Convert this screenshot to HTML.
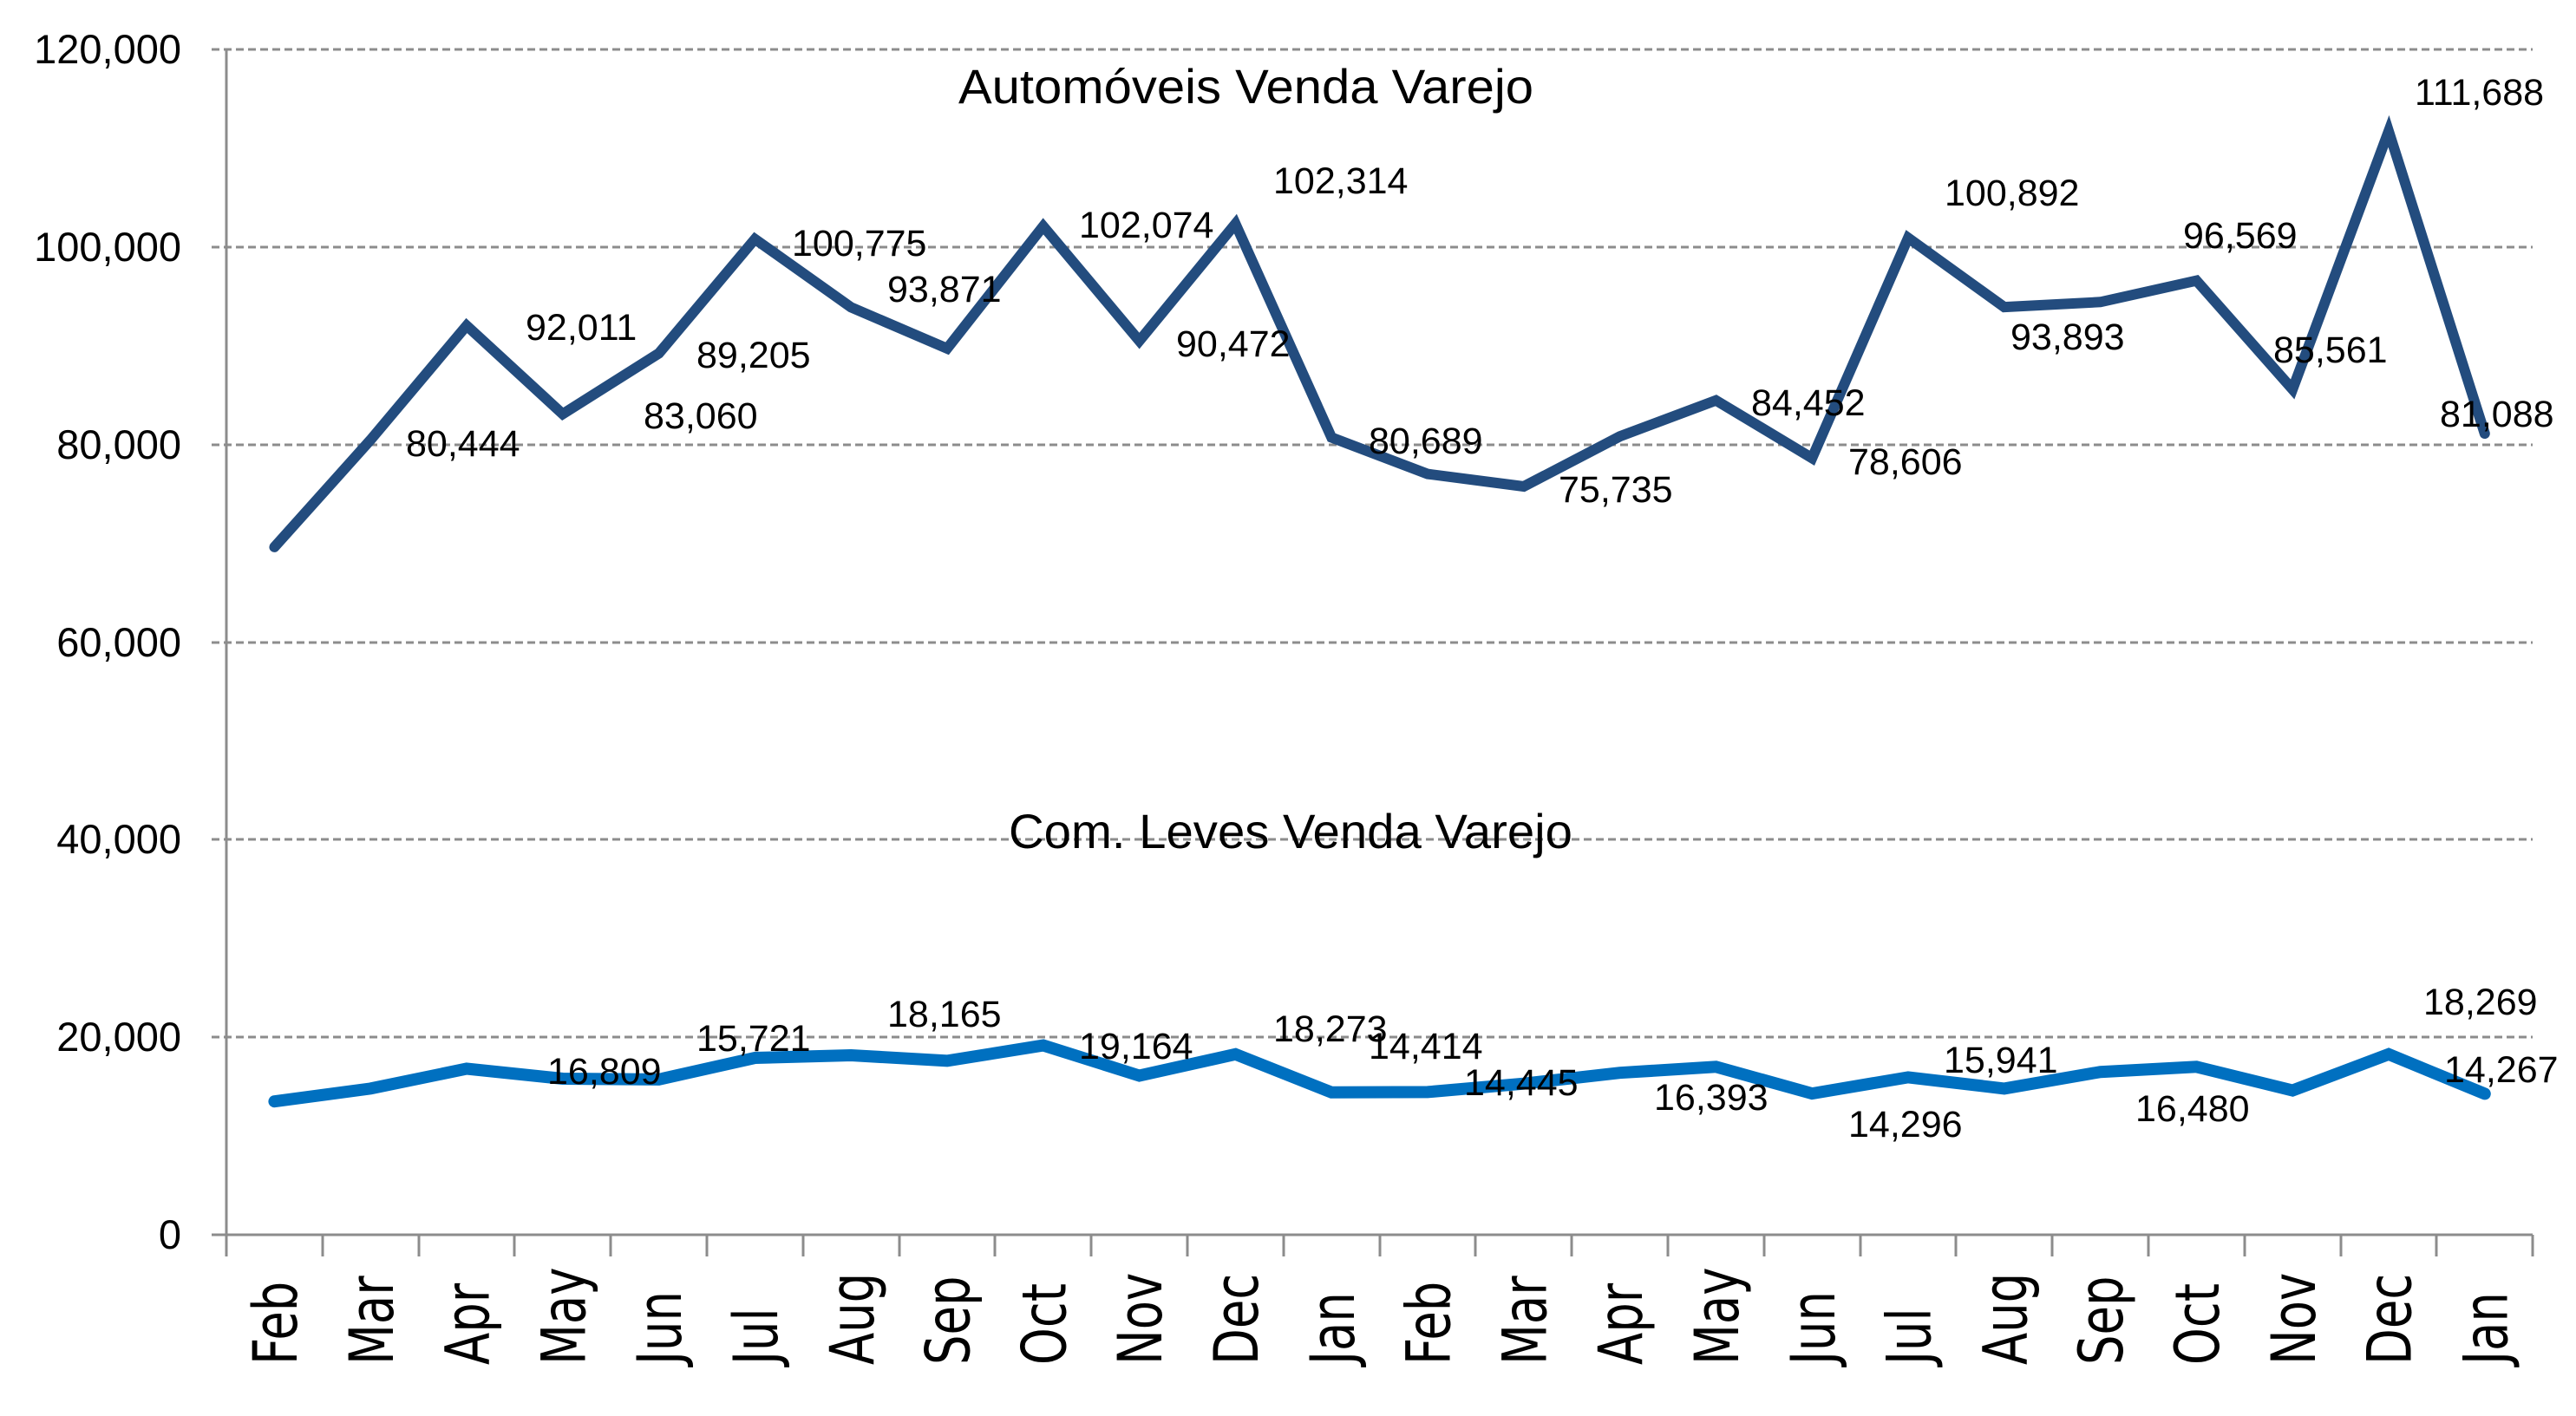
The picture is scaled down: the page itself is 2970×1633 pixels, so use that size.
<!DOCTYPE html>
<html><head><meta charset="utf-8"><style>
html,body{margin:0;padding:0;background:#fff;}
svg{display:block;}
text{font-family:"Liberation Sans",sans-serif;fill:#000;}
.yl{font-size:47px;text-anchor:end;}
.dl{font-size:43px;}
.ml{font-family:"DejaVu Sans","Liberation Sans",sans-serif;font-size:64px;}
</style></head><body>
<svg width="2970" height="1633" viewBox="0 0 2970 1633" xmlns="http://www.w3.org/2000/svg">
<g stroke="#8c8c8c" stroke-width="3" stroke-dasharray="9,5">
<line x1="244" y1="57" x2="2920" y2="57"/>
<line x1="244" y1="285" x2="2920" y2="285"/>
<line x1="244" y1="513" x2="2920" y2="513"/>
<line x1="244" y1="741" x2="2920" y2="741"/>
<line x1="244" y1="968" x2="2920" y2="968"/>
<line x1="244" y1="1196" x2="2920" y2="1196"/>
</g>
<g stroke="#8c8c8c" stroke-width="3">
<line x1="261" y1="57" x2="261" y2="1449"/>
<line x1="244" y1="1424" x2="2920" y2="1424"/>
<line x1="372" y1="1424" x2="372" y2="1449"/><line x1="483" y1="1424" x2="483" y2="1449"/><line x1="593" y1="1424" x2="593" y2="1449"/><line x1="704" y1="1424" x2="704" y2="1449"/><line x1="815" y1="1424" x2="815" y2="1449"/><line x1="926" y1="1424" x2="926" y2="1449"/><line x1="1037" y1="1424" x2="1037" y2="1449"/><line x1="1147" y1="1424" x2="1147" y2="1449"/><line x1="1258" y1="1424" x2="1258" y2="1449"/><line x1="1369" y1="1424" x2="1369" y2="1449"/><line x1="1480" y1="1424" x2="1480" y2="1449"/><line x1="1591" y1="1424" x2="1591" y2="1449"/><line x1="1701" y1="1424" x2="1701" y2="1449"/><line x1="1812" y1="1424" x2="1812" y2="1449"/><line x1="1923" y1="1424" x2="1923" y2="1449"/><line x1="2034" y1="1424" x2="2034" y2="1449"/><line x1="2145" y1="1424" x2="2145" y2="1449"/><line x1="2255" y1="1424" x2="2255" y2="1449"/><line x1="2366" y1="1424" x2="2366" y2="1449"/><line x1="2477" y1="1424" x2="2477" y2="1449"/><line x1="2588" y1="1424" x2="2588" y2="1449"/><line x1="2699" y1="1424" x2="2699" y2="1449"/><line x1="2809" y1="1424" x2="2809" y2="1449"/><line x1="2920" y1="1424" x2="2920" y2="1449"/>
</g>
<g class="yl">
<text x="209" y="73" class="yl">120,000</text>
<text x="209" y="301" class="yl">100,000</text>
<text x="209" y="529" class="yl">80,000</text>
<text x="209" y="757" class="yl">60,000</text>
<text x="209" y="984" class="yl">40,000</text>
<text x="209" y="1212" class="yl">20,000</text>
<text x="209" y="1440" class="yl">0</text>
</g>
<polyline fill="none" stroke="#234c7e" stroke-width="12" stroke-linejoin="miter" stroke-linecap="round" points="316.4,630.9 427.2,507.3 538,375.5 648.8,477.5 759.6,407.5 870.4,275.7 981.2,354.4 1092,401.9 1202.8,260.9 1313.6,393.1 1424.4,258.1 1535.2,504.5 1646,546.6 1756.8,561 1867.6,503.3 1978.4,461.7 2089.2,528.3 2200,274.3 2310.8,354.1 2421.6,348.3 2532.4,323.6 2643.2,449 2754,151.3 2864.8,500"/>
<polyline fill="none" stroke="#0070c0" stroke-width="14" stroke-linejoin="miter" stroke-linecap="round" points="316.4,1270.2 427.2,1255.4 538,1232.5 648.8,1244 759.6,1244.9 870.4,1220 981.2,1217 1092,1223.4 1202.8,1205.6 1313.6,1240.5 1424.4,1215.8 1535.2,1259.8 1646,1259.4 1756.8,1249.7 1867.6,1237.2 1978.4,1230.3 2089.2,1261.1 2200,1242.4 2310.8,1255.4 2421.6,1236.2 2532.4,1230.3 2643.2,1257.6 2754,1215.8 2864.8,1261.4"/>
<text x="1105" y="119" font-size="56" textLength="663" lengthAdjust="spacingAndGlyphs">Automóveis Venda Varejo</text>
<text x="1163" y="978" font-size="56" textLength="650" lengthAdjust="spacingAndGlyphs">Com. Leves Venda Varejo</text>
<g class="dl">
<text class="dl" x="468" y="526">80,444</text>
<text class="dl" x="606" y="392">92,011</text>
<text class="dl" x="742" y="494">83,060</text>
<text class="dl" x="803" y="424">89,205</text>
<text class="dl" x="913" y="295">100,775</text>
<text class="dl" x="1023" y="348">93,871</text>
<text class="dl" x="1244" y="274">102,074</text>
<text class="dl" x="1356" y="411">90,472</text>
<text class="dl" x="1468" y="223">102,314</text>
<text class="dl" x="1578" y="523">80,689</text>
<text class="dl" x="1797" y="579">75,735</text>
<text class="dl" x="2019" y="479">84,452</text>
<text class="dl" x="2131" y="547">78,606</text>
<text class="dl" x="2242" y="237">100,892</text>
<text class="dl" x="2318" y="403">93,893</text>
<text class="dl" x="2517" y="286">96,569</text>
<text class="dl" x="2621" y="418">85,561</text>
<text class="dl" x="2784" y="121">111,688</text>
<text class="dl" x="2813" y="492">81,088</text>
<text class="dl" x="631" y="1250">16,809</text>
<text class="dl" x="803" y="1212">15,721</text>
<text class="dl" x="1023" y="1184">18,165</text>
<text class="dl" x="1244" y="1221">19,164</text>
<text class="dl" x="1468" y="1201">18,273</text>
<text class="dl" x="1578" y="1221">14,414</text>
<text class="dl" x="1688" y="1263">14,445</text>
<text class="dl" x="1907" y="1280">16,393</text>
<text class="dl" x="2131" y="1311">14,296</text>
<text class="dl" x="2241" y="1237">15,941</text>
<text class="dl" x="2462" y="1293">16,480</text>
<text class="dl" x="2794" y="1170">18,269</text>
<text class="dl" x="2818" y="1248">14,267</text>
</g>
<g class="ml">
<text class="ml" transform="translate(342,1574) rotate(-90) scale(0.85,1.1)">Feb</text>
<text class="ml" transform="translate(452.8,1574) rotate(-90) scale(0.85,1.1)">Mar</text>
<text class="ml" transform="translate(563.6,1574) rotate(-90) scale(0.85,1.1)">Apr</text>
<text class="ml" transform="translate(674.4,1574) rotate(-90) scale(0.85,1.1)">May</text>
<text class="ml" transform="translate(785.2,1574) rotate(-90) scale(0.85,1.1)">Jun</text>
<text class="ml" transform="translate(896,1574) rotate(-90) scale(0.85,1.1)">Jul</text>
<text class="ml" transform="translate(1006.8,1574) rotate(-90) scale(0.85,1.1)">Aug</text>
<text class="ml" transform="translate(1117.6,1574) rotate(-90) scale(0.85,1.1)">Sep</text>
<text class="ml" transform="translate(1228.4,1574) rotate(-90) scale(0.85,1.1)">Oct</text>
<text class="ml" transform="translate(1339.2,1574) rotate(-90) scale(0.85,1.1)">Nov</text>
<text class="ml" transform="translate(1450,1574) rotate(-90) scale(0.85,1.1)">Dec</text>
<text class="ml" transform="translate(1560.8,1574) rotate(-90) scale(0.85,1.1)">Jan</text>
<text class="ml" transform="translate(1671.6,1574) rotate(-90) scale(0.85,1.1)">Feb</text>
<text class="ml" transform="translate(1782.4,1574) rotate(-90) scale(0.85,1.1)">Mar</text>
<text class="ml" transform="translate(1893.2,1574) rotate(-90) scale(0.85,1.1)">Apr</text>
<text class="ml" transform="translate(2004,1574) rotate(-90) scale(0.85,1.1)">May</text>
<text class="ml" transform="translate(2114.8,1574) rotate(-90) scale(0.85,1.1)">Jun</text>
<text class="ml" transform="translate(2225.6,1574) rotate(-90) scale(0.85,1.1)">Jul</text>
<text class="ml" transform="translate(2336.4,1574) rotate(-90) scale(0.85,1.1)">Aug</text>
<text class="ml" transform="translate(2447.2,1574) rotate(-90) scale(0.85,1.1)">Sep</text>
<text class="ml" transform="translate(2558,1574) rotate(-90) scale(0.85,1.1)">Oct</text>
<text class="ml" transform="translate(2668.8,1574) rotate(-90) scale(0.85,1.1)">Nov</text>
<text class="ml" transform="translate(2779.6,1574) rotate(-90) scale(0.85,1.1)">Dec</text>
<text class="ml" transform="translate(2890.4,1574) rotate(-90) scale(0.85,1.1)">Jan</text>
</g>
</svg>
</body></html>
